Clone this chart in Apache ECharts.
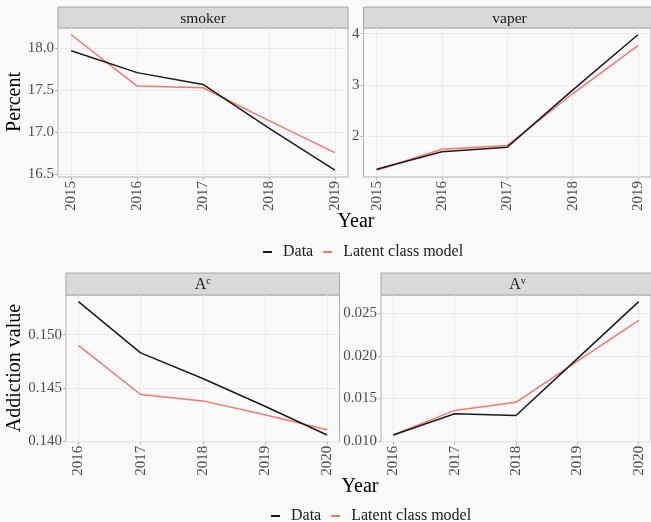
<!DOCTYPE html>
<html>
<head>
<meta charset="utf-8">
<script src="https://cdn.jsdelivr.net/npm/echarts@6/dist/echarts.min.js"></script>
<style>
  html, body { margin: 0; padding: 0; background: #fafafa; }
  #chart { width: 651px; height: 522px; }
</style>
</head>
<body>
<div id="chart"></div>
<script>
// Years on each row of panels
const yearsTop = [2015, 2016, 2017, 2018, 2019];
const yearsBottom = [2016, 2017, 2018, 2019, 2020];

// Prevalence (%) – observed vs latent class model
const smokerData  = [17.97, 17.71, 17.57, 17.05, 16.55];
const smokerModel = [18.16, 17.55, 17.53, 17.14, 16.76];
const vaperData   = [1.36, 1.70, 1.79, 2.90, 3.98];
const vaperModel  = [1.34, 1.75, 1.82, 2.83, 3.77];

// Addiction values
const acData  = [0.1531, 0.1483, 0.1459, 0.1433, 0.1406];
const acModel = [0.1490, 0.1444, 0.1438, 0.1425, 0.1411];
const avData  = [0.0107, 0.0132, 0.0130, 0.0197, 0.0264];
const avModel = [0.0107, 0.0136, 0.01455, 0.0194, 0.0242];

// Tick values for the y axes
const ticksSmoker = [16.5, 17.0, 17.5, 18.0];
const ticksVaper  = [2, 3, 4];
const ticksAc     = [0.140, 0.145, 0.150];
const ticksAv     = [0.010, 0.015, 0.020, 0.025];

const seriesNames = ['Data', 'Latent class model'];
const colData = '#1a1a1a';
const colModel = '#F8766D';
const FONT = '"Liberation Serif", "Times New Roman", serif';

// ggplot-style 5% expansion of a continuous range
function expanded(values) {
  const lo = Math.min(...values), hi = Math.max(...values);
  const pad = (hi - lo) * 0.05;
  return [lo - pad, hi + pad];
}

const gridBoxes = [
  { left: 58,  top: 28,  width: 290, height: 149 },
  { left: 363.5, top: 28, width: 292, height: 149 },
  { left: 66,  top: 295, width: 273.5, height: 146.7 },
  { left: 381, top: 295, width: 273, height: 146.7 }
];

const panels = [
  { years: yearsTop,    data: smokerData, model: smokerModel, ticks: ticksSmoker, dec: 1 },
  { years: yearsTop,    data: vaperData,  model: vaperModel,  ticks: ticksVaper,  dec: 0 },
  { years: yearsBottom, data: acData,     model: acModel,     ticks: ticksAc,     dec: 3 },
  { years: yearsBottom, data: avData,     model: avModel,     ticks: ticksAv,     dec: 3 }
];

const grid = gridBoxes.map(b => Object.assign({
  show: true, backgroundColor: '#fafafa', borderColor: '#b3b3b3', borderWidth: 1
}, b));

const xAxis = panels.map((p, i) => {
  const [lo, hi] = expanded(p.years);
  return {
    type: 'value', gridIndex: i, min: lo, max: hi,
    axisLine: { show: false },
    axisTick: { show: true, customValues: p.years, length: 3, lineStyle: { color: '#b3b3b3' } },
    axisLabel: {
      customValues: p.years, rotate: 90, margin: 4,
      color: '#4d4d4d', fontFamily: FONT, fontSize: 15,
      formatter: v => String(Math.round(v))
    },
    splitLine: { show: true, lineStyle: { color: '#ebebeb', width: 1 } }
  };
});

const yAxis = panels.map((p, i) => {
  const [lo, hi] = expanded(p.data.concat(p.model));
  return {
    type: 'value', gridIndex: i, min: lo, max: hi,
    axisLine: { show: false },
    axisTick: { show: true, customValues: p.ticks, length: 3, lineStyle: { color: '#b3b3b3' } },
    axisLabel: {
      customValues: p.ticks, margin: 4,
      color: '#4d4d4d', fontFamily: FONT, fontSize: 15,
      formatter: v => v.toFixed(p.dec)
    },
    splitLine: { show: true, lineStyle: { color: '#ebebeb', width: 1 } }
  };
});

const series = [];
panels.forEach((p, i) => {
  [[p.data, colData, seriesNames[0]], [p.model, colModel, seriesNames[1]]].forEach(([vals, col, name]) => {
    series.push({
      type: 'line', name, xAxisIndex: i, yAxisIndex: i,
      data: p.years.map((y, k) => [y, vals[k]]),
      showSymbol: false, symbol: 'none', silent: true,
      lineStyle: { color: col, width: 1.5 }, itemStyle: { color: col },
      z: name === 'Data' ? 3 : 2
    });
  });
});

// Facet strips
const stripDefs = [
  { box: gridBoxes[0], top: 7,   h: 21, text: 'smoker' },
  { box: gridBoxes[1], top: 7,   h: 21, text: 'vaper' },
  { box: gridBoxes[2], top: 273, h: 22, text: '{b|A}{s|c}' },
  { box: gridBoxes[3], top: 273, h: 22, text: '{b|A}{s|v}' }
];
const graphic = [];
stripDefs.forEach(s => {
  graphic.push({
    type: 'rect', silent: true,
    shape: { x: s.box.left, y: s.top, width: s.box.width, height: s.h },
    style: { fill: '#d9d9d9', stroke: '#a6a6a6', lineWidth: 1 }
  });
  graphic.push({
    type: 'text', silent: true,
    x: s.box.left + s.box.width / 2, y: s.top + s.h / 2 + 1,
    style: {
      text: s.text, align: 'center', verticalAlign: 'middle',
      fill: '#1a1a1a', font: '15.5px ' + FONT,
      rich: {
        b: { fontSize: 16, fontFamily: FONT, fill: '#1a1a1a', lineHeight: 18 },
        s: { fontSize: 10, fontFamily: FONT, fill: '#1a1a1a', lineHeight: 10, verticalAlign: 'top' }
      }
    }
  });
});

// Axis titles
function title(text, x, y, rot) {
  return {
    type: 'text', silent: true, x, y, rotation: rot || 0,
    style: { text, align: 'center', verticalAlign: 'middle', fill: '#000', font: '20px ' + FONT }
  };
}
graphic.push(title('Percent', 15, 102, Math.PI / 2));
graphic.push(title('Year', 356, 222));
graphic.push(title('Addiction value', 15, 368, Math.PI / 2));
graphic.push(title('Year', 360, 487));

const legendBase = {
  data: seriesNames, icon: 'rect', itemWidth: 9, itemHeight: 2, itemGap: 10,
  selectedMode: false,
  textStyle: { fontFamily: FONT, fontSize: 16, color: '#1a1a1a', padding: [0, 0, 0, 6] }
};

const chart = echarts.init(document.getElementById('chart'), null, { renderer: 'canvas' });
chart.setOption({
  backgroundColor: '#fafafa',
  animation: false,
  grid, xAxis, yAxis, series, graphic,
  legend: [
    Object.assign({ left: 258, top: 239 }, legendBase),
    Object.assign({ left: 266, top: 503 }, legendBase)
  ]
});
</script>
</body>
</html>
